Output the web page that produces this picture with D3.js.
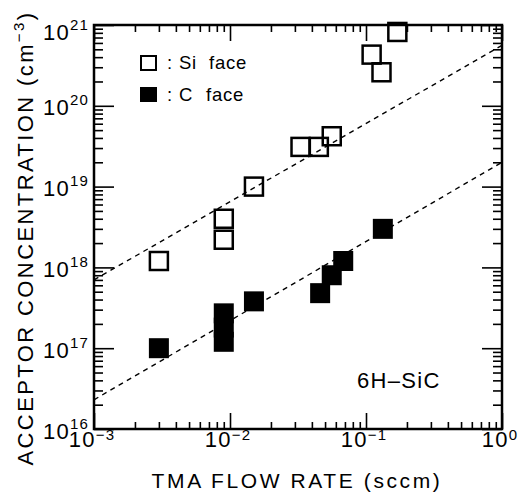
<!DOCTYPE html>
<html><head><meta charset="utf-8">
<script src="https://cdn.jsdelivr.net/npm/d3@7"></script>
<style>
html,body{margin:0;padding:0;background:#fff;}
svg{display:block;font-family:"Liberation Sans",Arial,Helvetica,sans-serif;}
</style></head><body>
<svg id="chart" width="523" height="492"></svg>
<script>
// ---- data ----
const siFlow = [3.0e-3, 9.0e-3, 9.0e-3, 1.5e-2, 3.3e-2, 4.5e-2, 5.6e-2, 1.1e-1, 1.3e-1, 1.7e-1];
const siConc = [1.2e18, 4.0e18, 2.2e18, 1.0e19, 3.1e19, 3.1e19, 4.2e19, 4.3e20, 2.6e20, 8.2e20];
const cFlow  = [3.0e-3, 9.0e-3, 9.0e-3, 9.0e-3, 1.5e-2, 4.6e-2, 5.6e-2, 6.8e-2, 1.33e-1];
const cConc  = [1.0e17, 1.2e17, 1.8e17, 2.7e17, 3.8e17, 4.8e17, 8.0e17, 1.2e18, 3.0e18];
const fitFlow = [1e-3, 1];
const siFit = [7.0e17, 5.6e20];
const cFit  = [2.3e16, 2.0e19];
const xTickVals = [1e-3, 1e-2, 1e-1, 1];
const xTickExp  = ["\u22123", "\u22122", "\u22121", "0"];
const yTickVals = [1e16, 1e17, 1e18, 1e19, 1e20, 1e21];
const yTickExp  = ["16", "17", "18", "19", "20", "21"];
const legendLabels = ["Si", "C"];
const xTitle = "TMA FLOW RATE (sccm)";
const yTitle = "ACCEPTOR CONCENTRATION (cm";
const noteText = "6H\u2013SiC";

// ---- chart ----
const svg = d3.select("#chart");
const L = 94, R = 502, T = 25, B = 429;
const x = d3.scaleLog().domain([1e-3, 1]).range([L, R]);
const y = d3.scaleLog().domain([1e16, 1e21]).range([B, T]);

const isMajor = v => Math.abs(Math.log10(v) - Math.round(Math.log10(v))) < 1e-9;
const xAll = x.ticks(), yAll = y.ticks();
const xMin = xAll.filter(v => !isMajor(v)), xMaj = xAll.filter(isMajor);
const yMin = yAll.filter(v => !isMajor(v)), yMaj = yAll.filter(isMajor);

function tickAxis(gen, tf, vals, size) {
  svg.append("g").attr("transform", tf)
    .call(gen.tickValues(vals).tickSize(size).tickFormat(""))
    .call(g => g.select(".domain").remove())
    .selectAll("line").attr("stroke", "#000").attr("stroke-width", 1.6);
}
tickAxis(d3.axisTop(x), `translate(0,${B})`, xMin, 7);
tickAxis(d3.axisTop(x), `translate(0,${B})`, xMaj, 16);
tickAxis(d3.axisBottom(x), `translate(0,${T})`, xMin, 7);
tickAxis(d3.axisBottom(x), `translate(0,${T})`, xMaj, 16);
tickAxis(d3.axisRight(y), `translate(${L},0)`, yMin, 9);
tickAxis(d3.axisRight(y), `translate(${L},0)`, yMaj, 20);
tickAxis(d3.axisLeft(y), `translate(${R},0)`, yMin, 9);
tickAxis(d3.axisLeft(y), `translate(${R},0)`, yMaj, 20);

svg.append("rect").attr("x", L).attr("y", T).attr("width", R - L).attr("height", B - T)
  .attr("fill", "none").attr("stroke", "#000").attr("stroke-width", 2.5);

// tick labels
xTickVals.forEach((v, i) => {
  const t = svg.append("text").attr("x", x(v) - 2).attr("y", 447)
    .attr("text-anchor", "middle").attr("font-size", 22).attr("letter-spacing", 1.2);
  t.append("tspan").text("10");
  t.append("tspan").attr("font-size", 15).attr("dy", -7).text(xTickExp[i]);
});
yTickVals.forEach((v, i) => {
  const t = svg.append("text").attr("x", 89).attr("y", Math.max(y(v) + 9.5, 40))
    .attr("text-anchor", "end").attr("font-size", 22).attr("letter-spacing", 1.2);
  t.append("tspan").text("10");
  t.append("tspan").attr("font-size", 15).attr("dy", -10).text(yTickExp[i]);
});

// axis titles
svg.append("text").attr("x", 297).attr("y", 488).attr("text-anchor", "middle")
  .attr("font-size", 21).attr("letter-spacing", 2.6).text(xTitle);
const yt = svg.append("text").attr("transform", "translate(33,238) rotate(-90)")
  .attr("text-anchor", "middle").attr("font-size", 22).attr("letter-spacing", 2.4);
yt.append("tspan").text(yTitle);
yt.append("tspan").attr("font-size", 15).attr("dy", -9).text("\u22123");
yt.append("tspan").attr("dy", 9).text(")");

// fit lines
const line = d3.line().x(d => x(d[0])).y(d => y(d[1]));
[siFit, cFit].forEach(f => {
  svg.append("path").datum(fitFlow.map((v, i) => [v, f[i]])).attr("d", line)
    .attr("fill", "none").attr("stroke", "#000").attr("stroke-width", 1.4)
    .attr("stroke-dasharray", "5,4.5");
});

// markers
svg.append("g").selectAll("rect").data(cFlow.map((v, i) => [v, cConc[i]])).join("rect")
  .attr("x", d => x(d[0]) - 10).attr("y", d => y(d[1]) - 10)
  .attr("width", 20).attr("height", 20).attr("fill", "#000");
svg.append("g").selectAll("rect").data(siFlow.map((v, i) => [v, siConc[i]])).join("rect")
  .attr("x", d => x(d[0]) - 9).attr("y", d => y(d[1]) - 9)
  .attr("width", 18).attr("height", 18).attr("fill", "none")
  .attr("stroke", "#000").attr("stroke-width", 2.5);

// legend
svg.append("rect").attr("x", 141).attr("y", 56).attr("width", 15).attr("height", 14)
  .attr("fill", "none").attr("stroke", "#000").attr("stroke-width", 2);
svg.append("rect").attr("x", 140).attr("y", 87).attr("width", 17).attr("height", 15).attr("fill", "#000");
[[69, legendLabels[0], 179, 209], [101, legendLabels[1], 179, 206]].forEach(([by, lab, lx, fx]) => {
  const g = svg.append("g").attr("font-size", 18.5);
  g.append("text").attr("x", 167).attr("y", by).text(":");
  g.append("text").attr("x", lx).attr("y", by).attr("letter-spacing", 0.6).text(lab);
  g.append("text").attr("x", fx).attr("y", by).attr("letter-spacing", 0.8).text("face");
});

svg.append("text").attr("x", 357).attr("y", 388).attr("font-size", 22)
  .attr("letter-spacing", 1.3).text(noteText);
</script>
</body></html>
